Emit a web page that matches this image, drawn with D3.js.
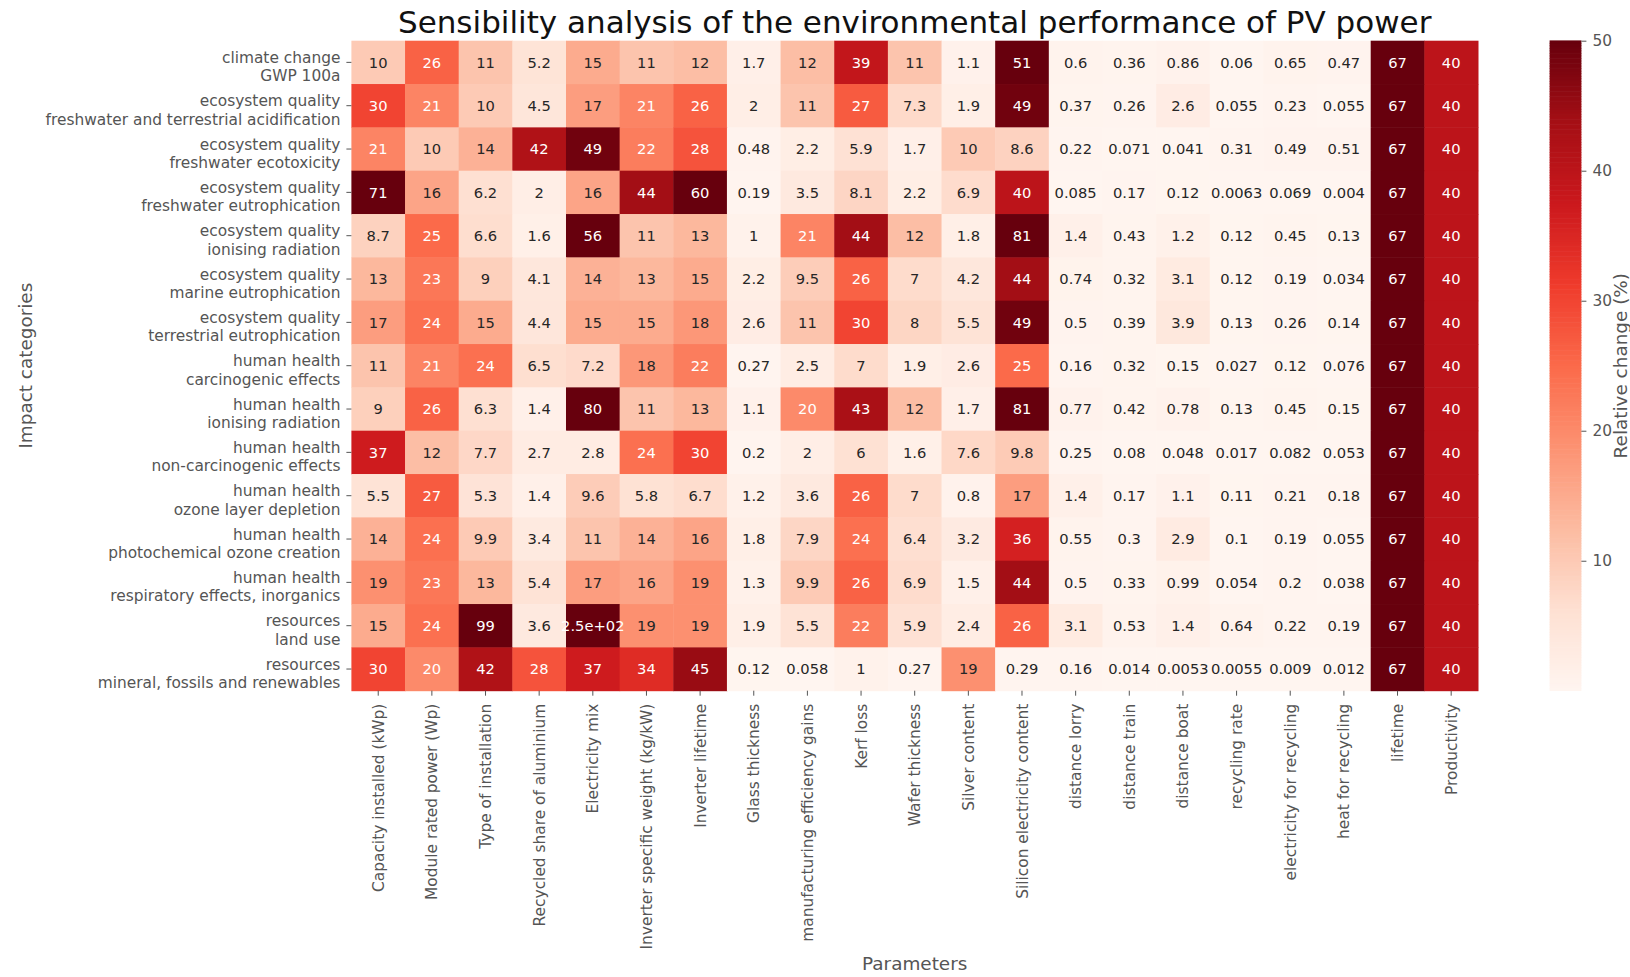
<!DOCTYPE html>
<html>
<head>
<meta charset="utf-8">
<script src="https://cdn.jsdelivr.net/npm/d3@7"></script>
<style>
  body { margin: 0; background: #fff; }
  svg text { font-family: "DejaVu Sans", sans-serif; }
</style>
</head>
<body>
<div id="chart"></div>
<script>
(() => {

    ////////////////////////////////////
    ////////////// data ////////////////
    ////////////////////////////////////

    // impact categories (two lines each, split on \n)
    const categories = [
        'climate change\nGWP 100a',
        'ecosystem quality\nfreshwater and terrestrial acidification',
        'ecosystem quality\nfreshwater ecotoxicity',
        'ecosystem quality\nfreshwater eutrophication',
        'ecosystem quality\nionising radiation',
        'ecosystem quality\nmarine eutrophication',
        'ecosystem quality\nterrestrial eutrophication',
        'human health\ncarcinogenic effects',
        'human health\nionising radiation',
        'human health\nnon-carcinogenic effects',
        'human health\nozone layer depletion',
        'human health\nphotochemical ozone creation',
        'human health\nrespiratory effects, inorganics',
        'resources\nland use',
        'resources\nmineral, fossils and renewables'
    ]

    const parameters = [
        'Capacity installed (kWp)', 'Module rated power (Wp)', 'Type of installation',
        'Recycled share of aluminium', 'Electricity mix', 'Inverter specific weight (kg/kW)',
        'Inverter lifetime', 'Glass thickness', 'manufacturing efficiency gains', 'Kerf loss',
        'Wafer thickness', 'Silver content', 'Silicon electricity content', 'distance lorry',
        'distance train', 'distance boat', 'recycling rate', 'electricity for recycling',
        'heat for recycling', 'lifetime', 'Productivity'
    ]

    // relative change (%) per category (rows) and parameter (columns)
    const values = [
        [10, 26, 11, 5.2, 15, 11, 12, 1.7, 12, 39, 11, 1.1, 51, 0.6, 0.36, 0.86, 0.06, 0.65, 0.47, 67, 40],
        [30, 21, 10, 4.5, 17, 21, 26, 2, 11, 27, 7.3, 1.9, 49, 0.37, 0.26, 2.6, 0.055, 0.23, 0.055, 67, 40],
        [21, 10, 14, 42, 49, 22, 28, 0.48, 2.2, 5.9, 1.7, 10, 8.6, 0.22, 0.071, 0.041, 0.31, 0.49, 0.51, 67, 40],
        [71, 16, 6.2, 2, 16, 44, 60, 0.19, 3.5, 8.1, 2.2, 6.9, 40, 0.085, 0.17, 0.12, 0.0063, 0.069, 0.004, 67, 40],
        [8.7, 25, 6.6, 1.6, 56, 11, 13, 1, 21, 44, 12, 1.8, 81, 1.4, 0.43, 1.2, 0.12, 0.45, 0.13, 67, 40],
        [13, 23, 9, 4.1, 14, 13, 15, 2.2, 9.5, 26, 7, 4.2, 44, 0.74, 0.32, 3.1, 0.12, 0.19, 0.034, 67, 40],
        [17, 24, 15, 4.4, 15, 15, 18, 2.6, 11, 30, 8, 5.5, 49, 0.5, 0.39, 3.9, 0.13, 0.26, 0.14, 67, 40],
        [11, 21, 24, 6.5, 7.2, 18, 22, 0.27, 2.5, 7, 1.9, 2.6, 25, 0.16, 0.32, 0.15, 0.027, 0.12, 0.076, 67, 40],
        [9, 26, 6.3, 1.4, 80, 11, 13, 1.1, 20, 43, 12, 1.7, 81, 0.77, 0.42, 0.78, 0.13, 0.45, 0.15, 67, 40],
        [37, 12, 7.7, 2.7, 2.8, 24, 30, 0.2, 2, 6, 1.6, 7.6, 9.8, 0.25, 0.08, 0.048, 0.017, 0.082, 0.053, 67, 40],
        [5.5, 27, 5.3, 1.4, 9.6, 5.8, 6.7, 1.2, 3.6, 26, 7, 0.8, 17, 1.4, 0.17, 1.1, 0.11, 0.21, 0.18, 67, 40],
        [14, 24, 9.9, 3.4, 11, 14, 16, 1.8, 7.9, 24, 6.4, 3.2, 36, 0.55, 0.3, 2.9, 0.1, 0.19, 0.055, 67, 40],
        [19, 23, 13, 5.4, 17, 16, 19, 1.3, 9.9, 26, 6.9, 1.5, 44, 0.5, 0.33, 0.99, 0.054, 0.2, 0.038, 67, 40],
        [15, 24, 99, 3.6, 250, 19, 19, 1.9, 5.5, 22, 5.9, 2.4, 26, 3.1, 0.53, 1.4, 0.64, 0.22, 0.19, 67, 40],
        [30, 20, 42, 28, 37, 34, 45, 0.12, 0.058, 1, 0.27, 19, 0.29, 0.16, 0.014, 0.0053, 0.0055, 0.009, 0.012, 67, 40]
    ]

    const colorbarTicks = [10, 20, 30, 40, 50]
    const vmax = 50

    // flat cell list for the join
    const cells = []
    values.forEach((row, i) => row.forEach((v, j) => cells.push({ row: categories[i], col: parameters[j], value: v })))
    const vmin = d3.min(cells, d => d.value)

    ////////////////////////////////////
    //////////// SVG Setup /////////////
    ////////////////////////////////////

    const svgWidth = 1630
    const svgHeight = 977

    const plot = { left: 351.4, right: 1478, top: 40.7, bottom: 690.7 }
    const cbar = { left: 1549.6, right: 1581.4 }

    const labelColor = '#555555'
    const tickFont = 15.4
    const annotFont = 14.7
    const axisFont = 18.4

    const svg = d3.select('#chart')
        .append('svg')
        .attr('width', svgWidth)
        .attr('height', svgHeight)

    ////////////////////////////////////
    //////////////scales////////////////
    ////////////////////////////////////

    const xScale = d3.scaleBand().domain(parameters).range([plot.left, plot.right])
    const yScale = d3.scaleBand().domain(categories).range([plot.top, plot.bottom])

    // matplotlib "Reds": linear segments between the 9 ColorBrewer colours
    const reds = ['#fff5f0', '#fee0d2', '#fcbba1', '#fc9272', '#fb6a4a', '#ef3b2c', '#cb181d', '#a50f15', '#67000d']
    const colorScale = d3.scaleLinear()
        .domain(reds.map((c, i) => vmin + (vmax - vmin) * i / (reds.length - 1)))
        .range(reds)
        .interpolate(d3.interpolateRgb)
        .clamp(true)

    // seaborn style: light text on dark cells
    const textColor = v => {
        const c = d3.rgb(colorScale(v))
        const lin = x => { x /= 255; return x <= 0.03928 ? x / 12.92 : Math.pow((x + 0.055) / 1.055, 2.4) }
        const lum = 0.2126 * lin(c.r) + 0.7152 * lin(c.g) + 0.0722 * lin(c.b)
        return lum > 0.408 ? '#262626' : '#ffffff'
    }

    // python's "{:.2g}"
    const fmt = v => {
        const strip = s => s.includes('.') ? s.replace(/0+$/, '').replace(/\.$/, '') : s
        let s = v.toPrecision(2)
        if (s.includes('e')) {
            let [m, e] = s.split('e')
            let sign = e[0], d = e.slice(1)
            if (d.length < 2) d = '0' + d
            return strip(m) + 'e' + sign + d
        }
        return strip(s)
    }

    ////////////////////////////////////
    ////////////// DOM /////////////////
    ////////////////////////////////////

    svg.selectAll('.cell')
        .data(cells)
        .join('rect')
        .attr('class', 'cell')
        .attr('x', d => xScale(d.col))
        .attr('y', d => yScale(d.row))
        .attr('width', xScale.bandwidth() + 0.5)
        .attr('height', yScale.bandwidth() + 0.5)
        .attr('fill', d => colorScale(d.value))

    svg.selectAll('.annot')
        .data(cells)
        .join('text')
        .attr('class', 'annot')
        .attr('x', d => xScale(d.col) + xScale.bandwidth() / 2)
        .attr('y', d => yScale(d.row) + yScale.bandwidth() / 2)
        .attr('text-anchor', 'middle')
        .attr('dy', '0.36em')
        .attr('font-size', annotFont)
        .attr('fill', d => textColor(d.value))
        .text(d => fmt(d.value))

    ////////////////////////////////////
    ///////////////axis/////////////////
    ////////////////////////////////////

    const xAxis = svg.append('g')
        .attr('transform', `translate(0,${plot.bottom})`)
        .call(d3.axisBottom(xScale).tickSize(5).tickPadding(8))
    xAxis.select('.domain').remove()
    xAxis.selectAll('line').attr('stroke', labelColor)
    xAxis.selectAll('text')
        .attr('font-size', tickFont)
        .attr('fill', labelColor)
        .attr('text-anchor', 'end')
        .attr('transform', 'rotate(-90)')
        .attr('x', -13)
        .attr('y', 0)
        .attr('dy', '0.36em')

    const yAxis = svg.append('g')
        .attr('transform', `translate(${plot.left},0)`)
        .call(d3.axisLeft(yScale).tickSize(5).tickPadding(6))
    yAxis.select('.domain').remove()
    yAxis.selectAll('line').attr('stroke', labelColor)
    yAxis.selectAll('text')
        .attr('font-size', tickFont)
        .attr('fill', labelColor)
        .attr('dy', null)
        .text(null)
        .each(function (d) {
            const lines = d.split('\n')
            d3.select(this).selectAll('tspan')
                .data(lines)
                .join('tspan')
                .attr('x', -11)
                .attr('y', (l, i) => 0.5 + i * 18.5)
                .text(l => l)
        })

    // title and axis labels
    svg.append('text')
        .attr('x', (plot.left + plot.right) / 2)
        .attr('y', 33)
        .attr('text-anchor', 'middle')
        .attr('font-size', 31)
        .attr('fill', '#111')
        .text('Sensibility analysis of the environmental performance of PV power')

    svg.append('text')
        .attr('x', (plot.left + plot.right) / 2)
        .attr('y', 970)
        .attr('text-anchor', 'middle')
        .attr('font-size', axisFont)
        .attr('fill', labelColor)
        .text('Parameters')

    svg.append('text')
        .attr('transform', `translate(31.5,${(plot.top + plot.bottom) / 2}) rotate(-90)`)
        .attr('text-anchor', 'middle')
        .attr('font-size', axisFont)
        .attr('fill', labelColor)
        .text('Impact categories')

    ////////////////////////////////////
    //////////////colorbar//////////////
    ////////////////////////////////////

    const cScale = d3.scaleLinear().domain([vmin, vmax]).range([plot.bottom, plot.top])
    const steps = d3.range(0, 256).map(i => vmin + (vmax - vmin) * i / 256)
    const stepH = (plot.bottom - plot.top) / 256

    svg.append('g').selectAll('rect')
        .data(steps)
        .join('rect')
        .attr('x', cbar.left)
        .attr('y', d => cScale(d) - stepH - 0.3)
        .attr('width', cbar.right - cbar.left)
        .attr('height', stepH + 0.6)
        .attr('fill', d => colorScale(d + (vmax - vmin) / 512))

    const cAxis = svg.append('g')
        .attr('transform', `translate(${cbar.right},0)`)
        .call(d3.axisRight(cScale).tickValues(colorbarTicks).tickSize(5).tickPadding(6))
    cAxis.select('.domain').remove()
    cAxis.selectAll('line').attr('stroke', labelColor)
    cAxis.selectAll('text').attr('font-size', tickFont).attr('fill', labelColor)

    svg.append('text')
        .attr('transform', `translate(1627,${(plot.top + plot.bottom) / 2}) rotate(-90)`)
        .attr('text-anchor', 'middle')
        .attr('font-size', axisFont)
        .attr('fill', labelColor)
        .text('Relative change (%)')

})()
</script>
</body>
</html>
